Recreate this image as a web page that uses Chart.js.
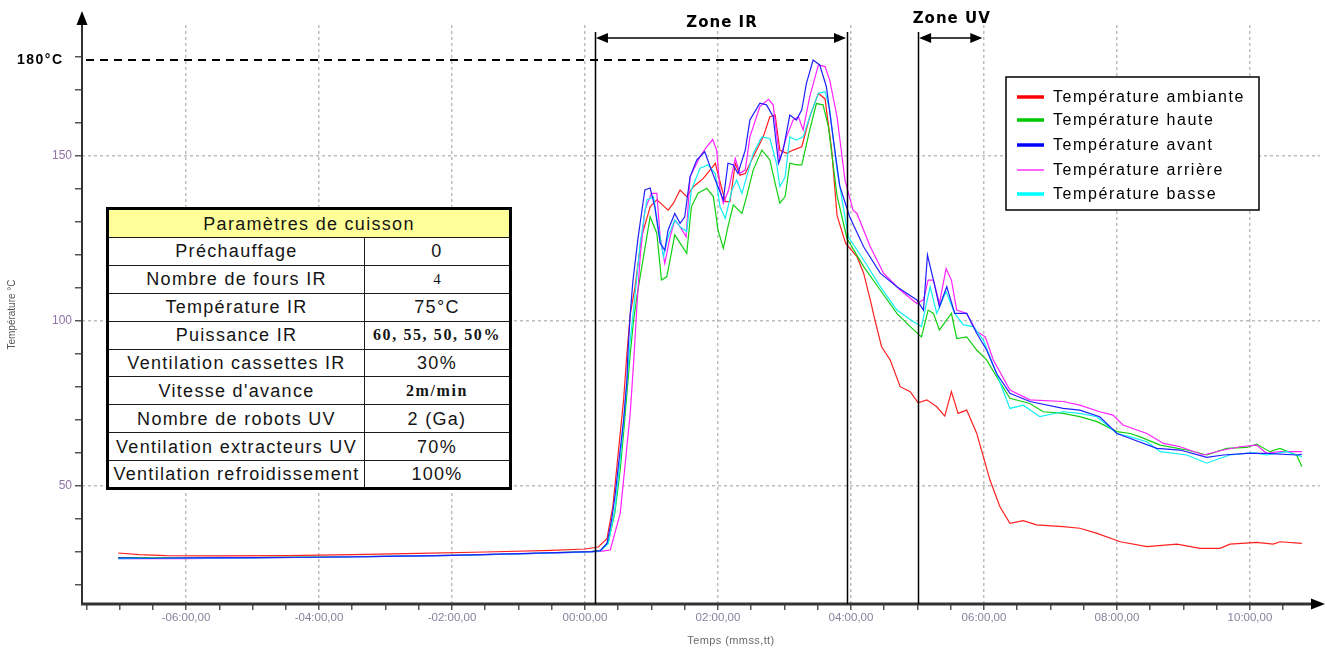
<!DOCTYPE html>
<html>
<head>
<meta charset="utf-8">
<script src="https://cdn.jsdelivr.net/npm/chart.js@4.4.0/dist/chart.umd.min.js"></script>
<style>
html,body{margin:0;padding:0;background:#fff;}
#wrap{position:relative;width:1327px;height:650px;overflow:hidden;}
#c{position:absolute;left:0;top:0;}
#params{position:absolute;left:106px;top:207px;width:403px;border-collapse:collapse;border:3px solid #000;
  font-family:"Liberation Sans",Arial,sans-serif;font-size:18px;letter-spacing:1.3px;color:#151515;background:#fff;table-layout:fixed;}
#params td{border:1.5px solid #1a1a1a;padding:0;text-align:center;white-space:nowrap;overflow:hidden;line-height:20px;}
#params tr{height:27.9px;}
#params tr.hd{height:29px;}
#params tr.hd td{background:#ffff99;}
#params td.bold{font-family:"Liberation Serif","Times New Roman",serif;font-weight:bold;font-size:16px;letter-spacing:1.6px;}
#params td.serif{font-family:"Liberation Serif","Times New Roman",serif;font-size:15px;letter-spacing:0;}
</style>
</head>
<body>
<div id="wrap">
<canvas id="c" width="1327" height="650"></canvas>
<table id="params"></table>
</div>
<script>
// ---------- data (time in minutes, temperature in °C) ----------
const seriesLabels = ['Température ambiante','Température haute','Température avant','Température arrière','Température basse'];

const timesRed = [-7.02,-6.7,-6.3,-5.5,-4.5,-3.5,-2.5,-1.5,-0.5,0,0.2,0.33,0.42,0.5,0.58,0.63,0.68,0.75,0.85,0.98,1.08,1.25,1.33,1.43,1.53,1.63,1.78,1.96,2.03,2.11,2.18,2.26,2.33,2.41,2.53,2.68,2.78,2.86,2.93,3.03,3.13,3.26,3.38,3.51,3.61,3.71,3.79,3.92,4.09,4.19,4.29,4.36,4.46,4.59,4.74,4.89,5.01,5.14,5.29,5.41,5.51,5.61,5.74,5.89,5.99,6.09,6.24,6.39,6.59,6.79,7.19,7.44,7.69,8.05,8.45,8.9,9.25,9.55,9.7,10.1,10.35,10.45,10.78];
const tempRed = [29.7,29.2,28.9,28.8,28.9,29.2,29.6,30.0,30.5,30.9,31.5,34,44,60,76,90,102,110,125.5,134.6,136.7,133.6,135.7,139.7,137.7,140.7,143.2,147.8,142.2,136.2,136.2,147.8,144.2,144.7,149.8,155.8,161.9,162.4,151.8,150.8,151.8,152.8,161.9,169,167.3,151.8,132,123.5,119.5,114.5,106.4,100.3,92.2,88.2,80.1,78.6,75.2,76.1,74,71.2,78.6,72,73,66,58.9,51.8,43.7,38.7,39.5,38.2,37.7,37.2,35.7,33.1,31.6,32.4,31.1,31.1,32.4,32.9,32.4,33.1,32.6];

const timesGreen = [-7.02,-6,-5,-4,-3,-2,-1,-0.3,0.1,0.23,0.35,0.45,0.53,0.58,0.63,0.68,0.73,0.78,0.88,0.98,1.08,1.15,1.23,1.35,1.43,1.53,1.6,1.7,1.83,1.93,2.0,2.08,2.15,2.23,2.36,2.43,2.53,2.66,2.78,2.86,2.93,3.01,3.08,3.18,3.26,3.38,3.48,3.58,3.66,3.79,3.94,4.19,4.44,4.69,4.89,5.06,5.16,5.24,5.33,5.51,5.59,5.74,5.89,6.04,6.19,6.39,6.69,6.89,7.19,7.44,7.7,8.0,8.2,8.35,8.65,9.05,9.35,9.65,9.95,10.1,10.3,10.45,10.7,10.78];
const tempGreen = [28.3,28.2,28.3,28.5,28.7,29.0,29.4,29.9,30.2,30.4,33,42,55,66,78,90,100,107.4,119.5,131.6,126.6,112.4,113.4,126.1,123.6,120.5,134.6,138.7,140.2,137.7,127.6,122,128.6,135.2,132.6,137.7,145.8,151.8,148.8,141.7,135.7,137.7,147.8,147.3,147.3,157.9,165.9,165.5,158.9,138,125,116.5,109.4,102.3,98.3,95.2,103.3,102.3,97.3,102.3,94.7,95.2,91.2,88.2,83.1,76.6,75,72.5,72,71,69.5,66.5,65.9,64.9,62.4,60.9,59.4,61.4,61.7,62.7,60.4,61.4,59.4,55.9];

const timesBlue = [-7.02,-6.5,-6,-5,-4,-3,-2,-1,-0.3,0.1,0.23,0.33,0.4,0.45,0.5,0.58,0.63,0.65,0.68,0.72,0.8,0.9,0.98,1.05,1.13,1.2,1.25,1.35,1.43,1.5,1.58,1.68,1.8,1.9,2.0,2.08,2.15,2.23,2.3,2.41,2.48,2.63,2.73,2.83,2.91,2.98,3.08,3.18,3.26,3.33,3.43,3.53,3.63,3.73,3.83,3.98,4.19,4.44,4.69,4.99,5.09,5.15,5.24,5.33,5.44,5.56,5.74,5.89,6.04,6.19,6.39,6.69,7.19,7.44,7.74,8.0,8.2,8.6,8.95,9.35,9.6,9.95,10.25,10.7,10.78];
const tempBlue = [28.2,28.1,28.2,28.3,28.4,28.7,29.0,29.5,29.9,30.1,30.4,32.6,39.7,46.8,55.8,70,82,92,102,112,125.5,139.7,140.3,134.6,123.6,121.5,127.6,132.6,129.6,131.6,143.7,148.8,151.3,145.8,140.7,136.7,147.8,147.3,144.7,151.8,160.9,166,165.5,161.9,147.8,151.8,162.4,160.9,164,172,179.1,177.6,171,155.8,141,131.6,122.5,114.5,110.4,106.4,103.3,120,112.4,104.3,110.4,102.3,102.3,96.3,91.2,84.1,78.1,75.6,73.5,73,71,65.9,64.4,61.4,60.9,58.7,59.4,59.9,59.9,59.4,59.6];

const timesMagenta = [-7.02,-6,-5,-4,-3,-2,-1,-0.3,0.1,0.23,0.38,0.53,0.6,0.68,0.73,0.78,0.83,0.9,1.0,1.08,1.13,1.2,1.28,1.35,1.43,1.52,1.58,1.73,1.83,1.92,1.98,2.03,2.08,2.16,2.26,2.33,2.41,2.48,2.63,2.76,2.83,2.93,3.03,3.13,3.21,3.28,3.38,3.51,3.61,3.68,3.79,3.91,4.03,4.09,4.29,4.49,4.74,4.99,5.09,5.16,5.24,5.33,5.43,5.51,5.59,5.74,5.89,6.02,6.14,6.39,6.69,7.19,7.44,7.74,7.94,8.09,8.45,8.7,8.95,9.3,9.6,9.85,10.1,10.25,10.45,10.78];
const tempMagenta = [28.0,28.0,28.2,28.4,28.7,29.0,29.4,29.8,30.0,30.2,30.6,41.7,55.8,72,87,104.3,119.5,133.6,138.7,138.7,125.5,117.5,125.5,130.6,128.6,125.5,143.7,149.8,152.8,155,151.8,139.7,135.7,139.7,149.3,144.7,145.8,155.8,165,167.2,165.5,148.8,155.8,160.9,161.9,157.9,168,177.6,177.1,173,161.9,142.7,133.6,132.6,122.5,114.5,109.4,105.3,106.4,112.4,112.4,105.3,115.9,112.4,103.3,102.3,96.8,95.2,88.2,79.1,76.1,75.6,74.5,72.5,71.5,68.5,65.9,62.9,61.9,59.4,60.9,61.9,62.4,59.9,60.4,60.4];

const timesCyan = [-7.02,-6,-5,-4,-3,-2,-1,-0.3,0.1,0.23,0.35,0.45,0.53,0.58,0.63,0.68,0.75,0.83,0.93,1.03,1.1,1.18,1.25,1.35,1.43,1.53,1.6,1.73,1.85,1.96,2.03,2.11,2.21,2.28,2.36,2.43,2.53,2.66,2.78,2.88,2.93,3.01,3.08,3.18,3.28,3.38,3.51,3.61,3.68,3.79,3.96,4.19,4.44,4.69,4.94,5.06,5.19,5.29,5.43,5.56,5.69,5.84,5.99,6.19,6.39,6.59,6.84,7.19,7.44,7.7,8.0,8.2,8.45,8.65,9.05,9.35,9.55,9.7,10.05,10.25,10.55,10.78];
const tempCyan = [28.0,28.1,28.2,28.4,28.7,29.0,29.4,29.8,30.0,30.3,32.5,43,58,69,81,94,107.4,123.6,136.7,137.7,128.6,119.5,125.5,130.6,128.6,127.1,139.7,146.3,147.3,144.7,134.6,131.1,139.7,142.7,138.7,143.7,150.8,155.8,155.3,147.8,140.7,143.7,155.8,154.8,155.8,161.9,169,169.5,164,145.8,125.5,118.5,110.4,103.3,99.8,98.3,110.4,102.3,108.9,102.3,98.8,98.3,94.2,84.1,73.5,74.5,71,72.5,72,71,65.9,64.9,63.4,60.4,59.4,56.9,58.4,59.4,60.1,59.4,60.4,58.9];

// axes
const xTickValues = [-7.5,-7,-6.5,-6,-5.5,-5,-4.5,-4,-3.5,-3,-2.5,-2,-1.5,-1,-0.5,0,0.5,1,1.5,2,2.5,3,3.5,4,4.5,5,5.5,6,6.5,7,7.5,8,8.5,9,9.5,10,10.5];
const xLabelValues = [-6,-4,-2,0,2,4,6,8,10];
const xTickLabels = ['-06:00,00','-04:00,00','-02:00,00','00:00,00','02:00,00','04:00,00','06:00,00','08:00,00','10:00,00'];
const yTickValues = [20,30,40,50,60,70,80,90,100,110,120,130,140,150,160,170,180];
const yLabelValues = [50,100,150];
const yTickLabels = ['50','100','150'];

// annotations
const zoneIR = [0.15, 3.94];
const zoneUV = [5.01, 5.99];
const refTemp = 179;      // "180°C" dashed reference line
const refLineEnd = 3.41;  // minutes

// table
const paramTitle = 'Paramètres de cuisson';
const paramNames = ['Préchauffage','Nombre de fours IR','Température IR','Puissance IR','Ventilation cassettes IR',"Vitesse d'avance",'Nombre de robots UV','Ventilation extracteurs UV','Ventilation refroidissement'];
const paramValues = ['0','4','75°C','60, 55, 50, 50%','30%','2m/min','2 (Ga)','70%','100%'];

// ---------- table ----------
(function(){
  const t = document.getElementById('params');
  let html = '<colgroup><col style="width:257px"><col style="width:146px"></colgroup>';
  html += '<tr class="hd"><td colspan="2">' + paramTitle + '</td></tr>';
  paramNames.forEach((n,i) => {
    let cls = '';
    if (i === 3 || i === 5) cls = 'bold';
    if (i === 1) cls = 'serif';
    html += '<tr><td>' + n + '</td><td class="' + cls + '">' + paramValues[i] + '</td></tr>';
  });
  t.innerHTML = html;
})();

// ---------- chart ----------
Chart.defaults.font.family = '"Liberation Sans", Arial, sans-serif';
const pts = (ts, vs) => ts.map((t, i) => ({x: t, y: vs[i]}));
const seriesData = [pts(timesRed,tempRed), pts(timesGreen,tempGreen), pts(timesBlue,tempBlue), pts(timesMagenta,tempMagenta), pts(timesCyan,tempCyan)];
const lineColors = ['#ff2020','#10d010','#2020ff','#ff20ff','#10f0f0'];
const legendColors = ['#ff0000','#00c800','#0000ff','#ff00ff','#00ffff'];
const legendWidths = [3.5,3.5,3.5,1.2,3.5];
const drawOrder = [2,4,3,1,0];

const xMin = -7.564, xMax = 11.053, yMin = 14.24, yMax = 189.7;

function fillArrow(ctx, x, y, dx, dy, len, half) {
  // tip at (x,y), pointing along (dx,dy)
  const px = -dy, py = dx;
  ctx.beginPath();
  ctx.moveTo(x, y);
  ctx.lineTo(x - dx*len + px*half, y - dy*len + py*half);
  ctx.lineTo(x - dx*len - px*half, y - dy*len - py*half);
  ctx.closePath();
  ctx.fill();
}
function spacedText(ctx, txt, x, y, spacing) {
  if ('letterSpacing' in ctx) { ctx.letterSpacing = spacing + 'px'; ctx.fillText(txt, x, y); ctx.letterSpacing = '0px'; }
  else ctx.fillText(txt, x, y);
}

const annot = {
  id: 'annot',
  afterDatasetsDraw(chart) {
    const {ctx, chartArea: a, scales: {x, y}} = chart;
    ctx.save();
    // axes with arrows
    ctx.strokeStyle = '#333'; ctx.fillStyle = '#000';
    ctx.lineWidth = 2;
    ctx.beginPath(); ctx.moveTo(a.left, a.bottom + 1); ctx.lineTo(a.left, 24); ctx.stroke();
    fillArrow(ctx, a.left, 11, 0, -1, 14, 5.5);
    ctx.lineWidth = 3;
    ctx.beginPath(); ctx.moveTo(a.left - 1, a.bottom); ctx.lineTo(1312, a.bottom); ctx.stroke();
    fillArrow(ctx, 1325, a.bottom, 1, 0, 14, 5.5);

    // zone lines
    ctx.strokeStyle = '#000'; ctx.lineWidth = 1.5;
    const zTop = 32;
    [zoneIR[0], zoneIR[1], zoneUV[0]].forEach(v => {
      const px = Math.round(x.getPixelForValue(v)) + 0.5;
      ctx.beginPath(); ctx.moveTo(px, zTop); ctx.lineTo(px, a.bottom); ctx.stroke();
    });
    const ay = 38;
    [[zoneIR, 'Zone IR', 23], [zoneUV, 'Zone UV', 19]].forEach(([z, lab, ty]) => {
      const x1 = x.getPixelForValue(z[0]), x2 = x.getPixelForValue(z[1]);
      ctx.lineWidth = 1.5;
      ctx.beginPath(); ctx.moveTo(x1 + 8, ay); ctx.lineTo(x2 - 8, ay); ctx.stroke();
      fillArrow(ctx, x1 + 1, ay, -1, 0, 12, 5);
      fillArrow(ctx, x2 - 1, ay, 1, 0, 12, 5);
      ctx.font = 'bold 15px "DejaVu Sans", Verdana, sans-serif';
      ctx.textAlign = 'center'; ctx.textBaseline = 'middle';
      spacedText(ctx, lab, (x1 + x2) / 2 + 1, ty, 1);
    });

    // 180°C reference
    const ry = Math.round(y.getPixelForValue(refTemp));
    ctx.setLineDash([8, 6]); ctx.lineWidth = 2; ctx.strokeStyle = '#000';
    ctx.beginPath(); ctx.moveTo(a.left + 4, ry); ctx.lineTo(x.getPixelForValue(refLineEnd), ry); ctx.stroke();
    ctx.setLineDash([]);
    ctx.font = 'bold 14px "Liberation Sans", Arial, sans-serif';
    ctx.textAlign = 'left'; ctx.textBaseline = 'middle';
    spacedText(ctx, '180°C', 17, ry, 1.5);

    // x title
    ctx.font = '11px "Liberation Sans", Arial, sans-serif';
    ctx.fillStyle = '#6a6a6a'; ctx.textAlign = 'center';
    spacedText(ctx, 'Temps (mmss,tt)', 731, 641, 0.4);
    ctx.restore();
  },
  afterDraw(chart) {
    const {ctx} = chart;
    ctx.save();
    const bx = 1006, by = 77, bw = 253, bh = 133;
    ctx.fillStyle = '#fff'; ctx.fillRect(bx, by, bw, bh);
    ctx.strokeStyle = '#000'; ctx.lineWidth = 1.5; ctx.strokeRect(bx, by, bw, bh);
    const rows = [97, 120, 145, 170, 194];
    ctx.font = '16px "Liberation Sans", Arial, sans-serif';
    ctx.textAlign = 'left'; ctx.textBaseline = 'middle';
    chart.data.datasets.forEach((ds, i) => {
      const k = ds.legendIndex;
      const ry = rows[k];
      ctx.strokeStyle = legendColors[k]; ctx.lineWidth = legendWidths[k];
      ctx.beginPath(); ctx.moveTo(1017, ry); ctx.lineTo(1044, ry); ctx.stroke();
      ctx.fillStyle = '#000';
      spacedText(ctx, ds.label, 1053, ry + 1, 1.6);
    });
    ctx.restore();
  }
};

const datasets = drawOrder.map(k => ({
  label: seriesLabels[k],
  legendIndex: k,
  data: seriesData[k],
  borderColor: lineColors[k],
  backgroundColor: lineColors[k],
  borderWidth: 1.2,
  pointRadius: 0,
  tension: 0,
  fill: false
}));

new Chart(document.getElementById('c'), {
  type: 'line',
  data: { datasets },
  options: {
    responsive: false,
    animation: false,
    devicePixelRatio: 1,
    layout: { padding: { left: 0, top: 25, right: 7, bottom: 0 } },
    plugins: { legend: { display: false }, tooltip: { enabled: false } },
    scales: {
      x: {
        type: 'linear', min: xMin, max: xMax,
        afterFit(s) { s.height = 46; },
        afterBuildTicks(s) { s.ticks = xTickValues.map(v => ({value: v})); },
        border: { display: false, dash: [3, 3] },
        grid: {
          drawOnChartArea: true,
          color: c => (c.tick && xLabelValues.includes(c.tick.value)) ? '#bdbdbd' : 'rgba(0,0,0,0)',
          lineWidth: 1.5,
          tickColor: '#555', tickLength: 6, tickWidth: 1.5, tickBorderDash: []
        },
        ticks: {
          autoSkip: false, maxRotation: 0, padding: 1,
          font: { size: 11.5 }, color: '#8a7f9c',
          callback: v => { const i = xLabelValues.indexOf(v); return i >= 0 ? xTickLabels[i] : ''; }
        }
      },
      y: {
        type: 'linear', min: yMin, max: yMax,
        afterFit(s) { s.width = 82; },
        afterBuildTicks(s) { s.ticks = yTickValues.map(v => ({value: v})); },
        border: { display: false, dash: [3, 3] },
        grid: {
          color: c => (c.tick && yLabelValues.includes(c.tick.value)) ? '#bdbdbd' : 'rgba(0,0,0,0)',
          lineWidth: 1.5,
          tickColor: '#555', tickLength: 7, tickWidth: 1.5, tickBorderDash: []
        },
        ticks: {
          autoSkip: false, padding: 3,
          font: { size: 12 }, color: '#8f73a3',
          callback: v => { const i = yLabelValues.indexOf(v); return i >= 0 ? yTickLabels[i] : ''; }
        },
        title: { display: true, text: 'Température °C', font: { size: 10 }, color: '#555', padding: { top: 6, bottom: 0 } }
      }
    }
  },
  plugins: [annot]
});
</script>
</body>
</html>
